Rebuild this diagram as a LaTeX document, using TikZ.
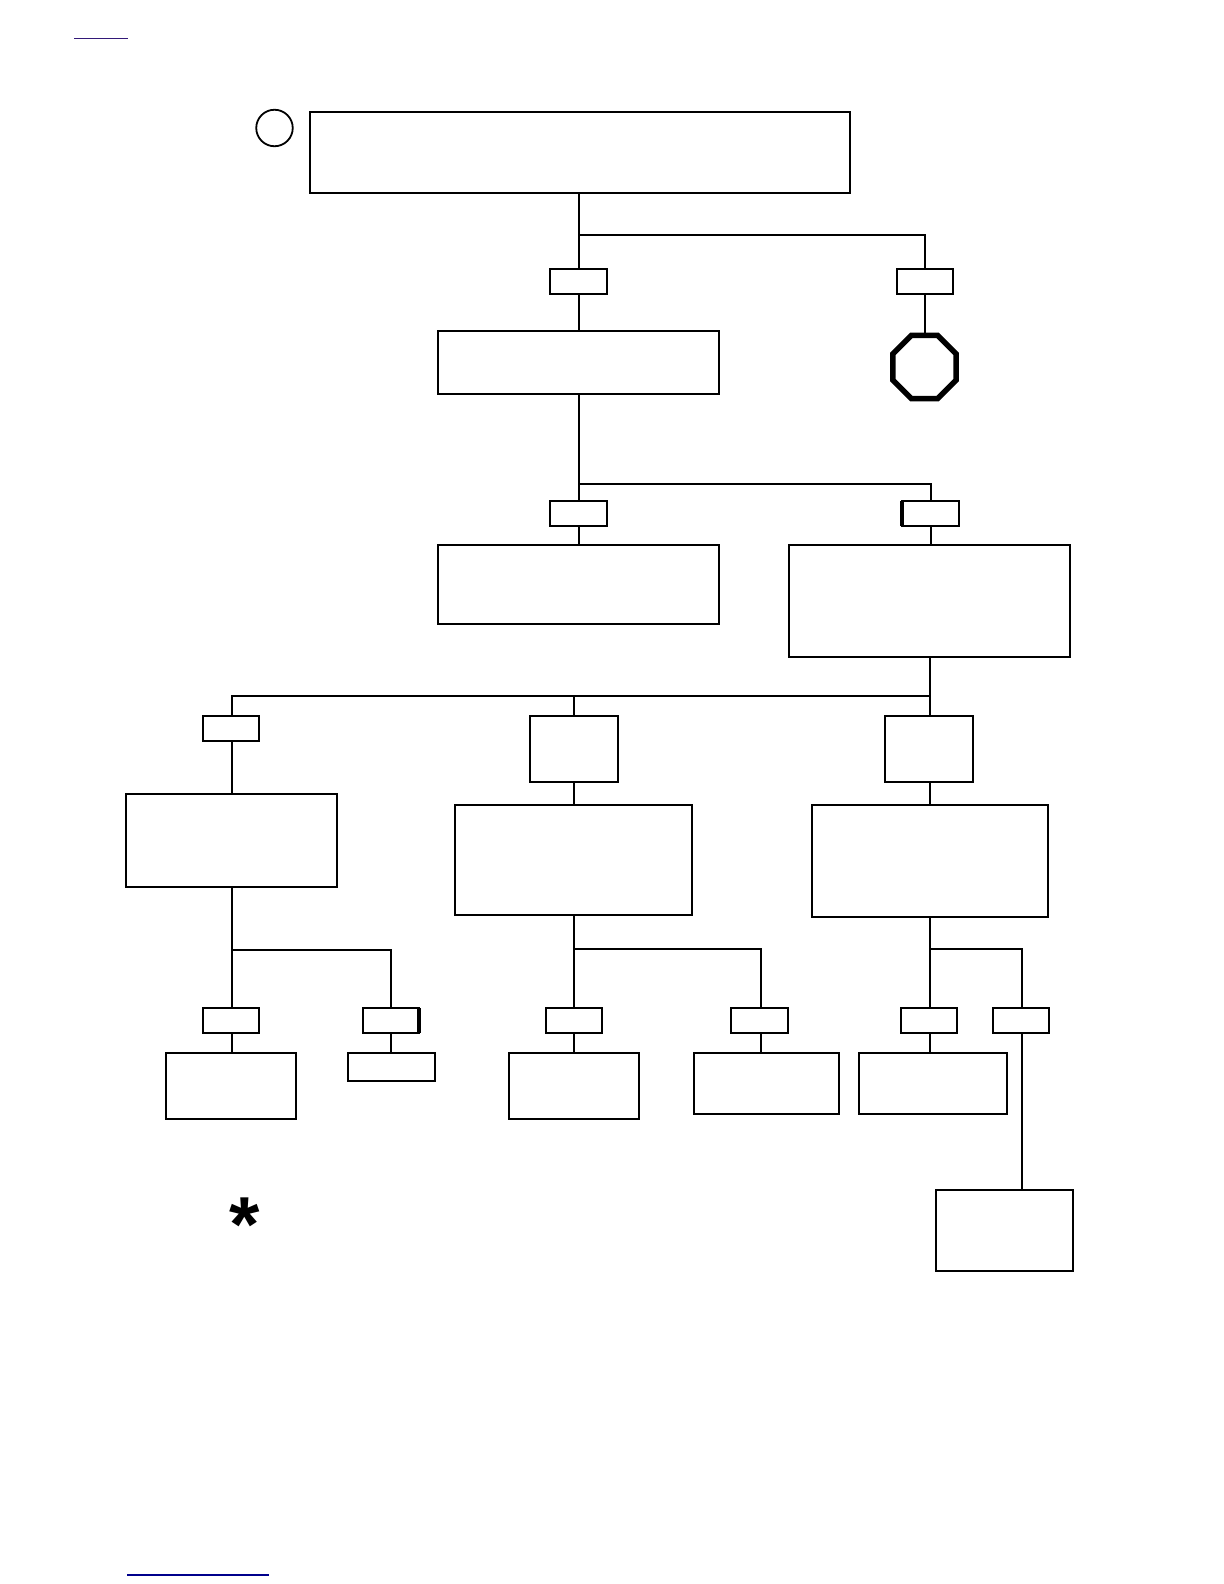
\documentclass[tikz,border=0pt]{standalone}
\usepackage{fontspec}
\setmainfont{Liberation Sans}
\usetikzlibrary{positioning,shapes.geometric}
\definecolor{FlowVisited}{RGB}{51,25,120}
\definecolor{FlowLink}{RGB}{0,0,140}
\newdimen\pxu
\pxu=0.5bp
\tikzset{
  flow box/.style={
    draw=black,
    line width=1bp,
    outer sep=0pt,
    inner sep=0pt,
    fill=white
  },
  flow tag/.style={flow box, minimum width=56.5\pxu, minimum height=25\pxu},
  flow gate/.style={flow box, minimum width=88\pxu, minimum height=66\pxu},
  flow stop/.style={flow box, regular polygon, regular polygon sides=8, line width=2.7bp, minimum size=68.5\pxu},
  flow note/.style={circle, draw=black, line width=0.9bp, outer sep=0pt, inner sep=0pt, minimum size=36.5\pxu},
  flow mark/.style={inner sep=0pt, font=\fontsize{39bp}{39bp}\selectfont\bfseries},
  flow line/.style={draw=black, line width=1bp},
  flow heavy/.style={draw=black, line width=2bp}
}

\begin{document}
\begin{tikzpicture}[x=0.5bp,y=-0.5bp]
\useasboundingbox (0,0) rectangle (1224,1584);
% first level
\node[flow box, minimum width=540\pxu, minimum height=81\pxu] (top) at (580,152.5) {};
\node[flow note] (note) at (274.5,128) {};
\node[flow tag] (tagyes) at (578.5,281.2) {};
\node[flow tag] (tagno) at (924.8,281.2) {};
\node[flow box, below=37.3\pxu of tagyes, minimum width=281\pxu, minimum height=63\pxu] (second) {};
\node[flow stop] (stop) at (924.5,367) {};
% second level
\node[flow tag] (tagleft) at (578.5,513.5) {};
\node[flow tag] (tagright) at (930.5,513.5) {};
\node[flow box, below=19\pxu of tagleft, minimum width=281\pxu, minimum height=79\pxu] (closed) {};
\node[flow box, below=19\pxu of tagright, xshift=-1\pxu, minimum width=281\pxu, minimum height=111.5\pxu] (open) {};
% three branches
\node[flow tag] (tagone) at (231,728.5) {};
\node[flow gate] (gatetwo) at (574,749) {};
\node[flow gate, below=59.5\pxu of open, xshift=-0.5\pxu] (gatethree) {};
\node[flow box, below=53\pxu of tagone, xshift=0.5\pxu, minimum width=211\pxu, minimum height=93\pxu] (one) {};
\node[flow box, below=23\pxu of gatetwo, xshift=-0.5\pxu, minimum width=237\pxu, minimum height=110\pxu] (two) {};
\node[flow box, below=23\pxu of gatethree, xshift=0.5\pxu, minimum width=236\pxu, minimum height=112\pxu] (three) {};
% last row
\node[flow tag] (tagf) at (231,1020.5) {};
\node[flow tag] (tagg) at (391,1020.5) {};
\node[flow tag] (tagh) at (574,1020.5) {};
\node[flow tag] (tagi) at (759.5,1020.5) {};
\node[flow tag] (tagj) at (929,1020.5) {};
\node[flow tag] (tagk) at (1021,1020.5) {};
\node[flow box, below=20\pxu of tagf, minimum width=130\pxu, minimum height=66\pxu] (leaff) {};
\node[flow box, below=20\pxu of tagg, xshift=0.5\pxu, minimum width=87\pxu, minimum height=28\pxu] (leafg) {};
\node[flow box, below=20\pxu of tagh, minimum width=130\pxu, minimum height=66\pxu] (leafh) {};
\node[flow box, below=20\pxu of tagi, xshift=7\pxu, minimum width=145\pxu, minimum height=61\pxu] (leafi) {};
\node[flow box, below=20\pxu of tagj, xshift=4\pxu, minimum width=148\pxu, minimum height=61\pxu] (leafj) {};
\node[flow box, below=157\pxu of tagk, xshift=-16.5\pxu, minimum width=136.5\pxu, minimum height=80.5\pxu] (leafk) {};
\node[flow mark] (star) at (245,1225) {*};
% fork points
\coordinate (forktop) at (578.5,235);
\coordinate (forksecond) at (578.5,484);
\coordinate (forkopen) at (930,696);
\coordinate (forkone) at (232,949.5);
\coordinate[below=34\pxu of two] (forktwo);
\coordinate (forkthree) at (930,949);
\coordinate (dropk) at (1022,1033);
% connectors
\draw[flow line] (top.south -| tagyes) -- (tagyes.north);
\draw[flow line] (forktop) -| (tagno.north);
\draw[flow line] (tagyes) -- (second);
\draw[flow line] (tagno) -- (stop.north -| tagno);
\draw[flow line] (second.south) -- (tagleft.north);
\draw[flow line] (forksecond) -| (tagright.north);
\draw[flow line] (tagleft) -- (closed);
\draw[flow line] (tagright.south) -- (tagright.south |- open.north);
\draw[flow line] (open.south -| forkopen) -- (gatethree.north -| forkopen);
\draw[flow line] (forkopen) -| (tagone.north -| forkone);
\draw[flow line] (forkopen) -| (gatetwo.north);
\draw[flow line] (tagone.south -| forkone) -- (one.north -| forkone);
\draw[flow line] (gatetwo.south) -- (gatetwo.south |- two.north);
\draw[flow line] (gatethree.south -| forkthree) -- (three.north -| forkthree);
\draw[flow line] (one.south -| forkone) -- (tagf.north -| forkone);
\draw[flow line] (forkone) -| (tagg.north);
\draw[flow line] (two.south -| tagh) -- (tagh.north);
\draw[flow line] (forktwo -| tagh) -| ([xshift=1.5\pxu]tagi.north);
\draw[flow line] (three.south -| forkthree) -- (tagj.north -| forkthree);
\draw[flow line] (forkthree) -| (tagk.north -| dropk);
\draw[flow line] (tagf.south -| forkone) -- (leaff.north -| forkone);
\draw[flow line] (tagg.south) -- (tagg.south |- leafg.north);
\draw[flow line] (tagh) -- (leafh);
\draw[flow line] ([xshift=1.5\pxu]tagi.south) -- ([xshift=1.5\pxu]tagi.south |- leafi.north);
\draw[flow line] (tagj.south -| forkthree) -- (leafj.north -| forkthree);
\draw[flow line] (dropk) -- (leafk.north -| dropk);
% heavier edges
\draw[flow heavy] (tagright.north west) -- (tagright.south west);
\draw[flow heavy] (tagg.north east) -- (tagg.south east);
% link rules
\draw[FlowVisited, line width=0.7bp] (74,38.5) -- (128,38.5);
\draw[FlowLink, line width=0.9bp] (127,1575) -- (269,1575);
\end{tikzpicture}
\end{document}
